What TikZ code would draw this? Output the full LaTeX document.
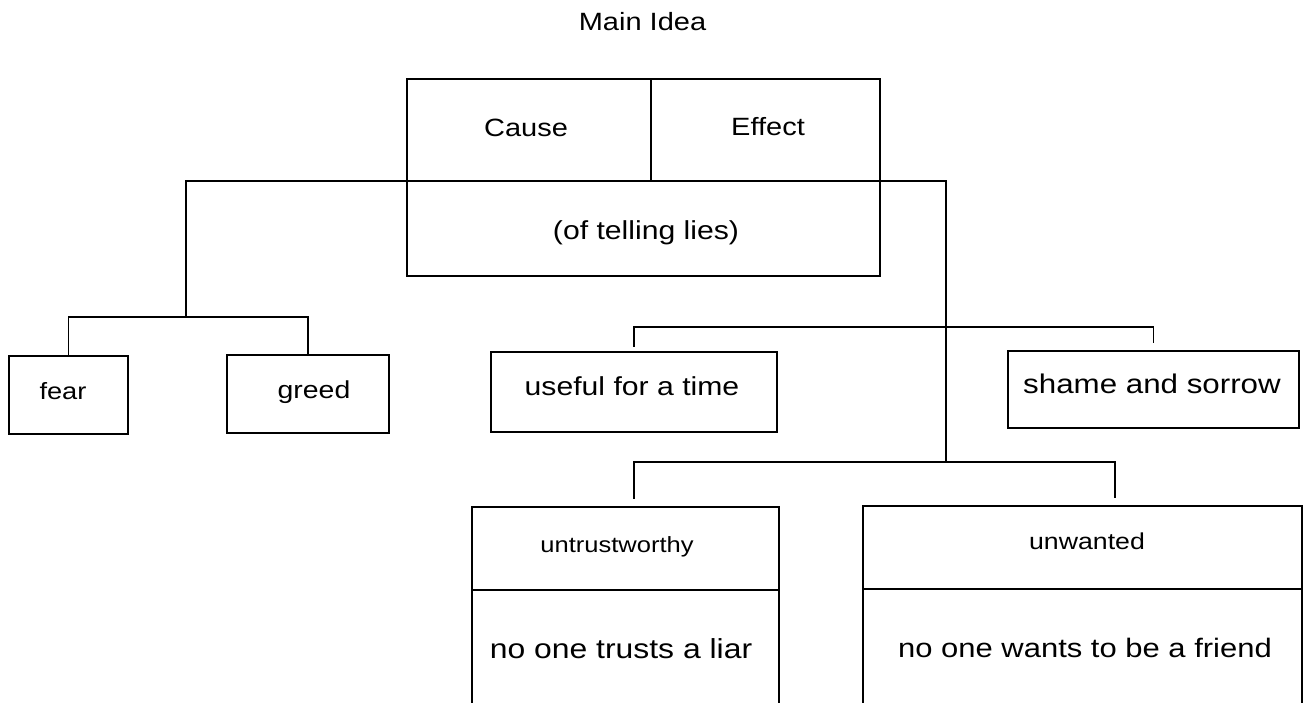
\documentclass[tikz,border=0pt]{standalone}
\usepackage{fontspec}
\setmainfont[FakeStretch=1.16]{Liberation Sans}
\begin{document}
\begin{tikzpicture}[x=1pt,y=-1pt,
  box/.style={draw=black, line width=1.8pt, rectangle, inner sep=0pt, outer sep=0pt},
  lbl/.style={anchor=base, inner sep=0pt, text=black},
  conn/.style={draw=black, line width=1.8pt}]
\clip (0,0) rectangle (1309,703);
\fill[white] (0,0) rectangle (1309,703);
% title
\node[lbl, font=\fontsize{25}{30}\selectfont] (title) at (642.5,31) {Main Idea};
% main box
\node[box, minimum width=244pt, minimum height=102pt] (cause) at (529,130) {};
\node[box, minimum width=229pt, minimum height=102pt] (effect) at (765.5,130) {};
\node[box, minimum width=473pt, minimum height=95pt] (lies) at (643.5,228.5) {};
\node[lbl, font=\fontsize{25}{30}\selectfont] at (526,137) {Cause};
\node[lbl, font=\fontsize{25}{30}\selectfont] at (768,136) {Effect};
\node[lbl, font=\fontsize{26}{31}\selectfont] at (646,240) {(of telling lies)};
% causes
\node[box, minimum width=119pt, minimum height=78pt] (fear) at (68.5,395) {};
\node[box, minimum width=162pt, minimum height=78pt] (greed) at (308,394) {};
\node[lbl, font=\fontsize{23.5}{28}\selectfont] at (63,399) {fear};
\node[lbl, font=\fontsize{24.5}{29}\selectfont] at (314,398) {greed};
% effects
\node[box, minimum width=286pt, minimum height=80pt] (useful) at (634,392) {};
\node[box, minimum width=291pt, minimum height=77pt] (shame) at (1153.5,389.5) {};
\node[lbl, font=\fontsize{26}{31}\selectfont] at (632,395) {useful for a time};
\node[lbl, font=\fontsize{27}{32}\selectfont] at (1152,393) {shame and sorrow};
\node[box, minimum width=307pt, minimum height=83pt] (untrT) at (625.5,548.5) {};
\node[box, minimum width=307pt, minimum height=180pt] (untrB) at (625.5,680) {};
\node[box, minimum width=439pt, minimum height=83pt] (unwT) at (1082.5,547.5) {};
\node[box, minimum width=439pt, minimum height=181pt] (unwB) at (1082.5,679.5) {};
\node[lbl, font=\fontsize{22}{27}\selectfont] at (617,552) {untrustworthy};
\node[lbl, font=\fontsize{23}{28}\selectfont] at (1087,549) {unwanted};
\node[lbl, font=\fontsize{27.5}{33}\selectfont] at (621,658) {no one trusts a liar};
\node[lbl, font=\fontsize{26.7}{32}\selectfont] at (1085,657) {no one wants to be a friend};
% junctions
\coordinate (jfg) at (186,317);
\coordinate (ju) at (946,327);
\coordinate (jr) at (946,462);
% connectors
\draw[conn] (lies.north west) -| (jfg);
\draw[conn] (fear.north) |- (jfg) -| (greed.north);
\draw[conn] (lies.north east) -| (jr);
\draw[conn, shorten >=5pt] (ju) -| (useful.north);
\draw[conn, shorten >=8pt] (ju) -| (shame.north);
\draw[conn, shorten >=8pt] (jr) -| ([xshift=8.5pt]untrT.north);
\draw[conn, shorten >=8pt] (jr) -| ([xshift=32.5pt]unwT.north);
\end{tikzpicture}
\end{document}
